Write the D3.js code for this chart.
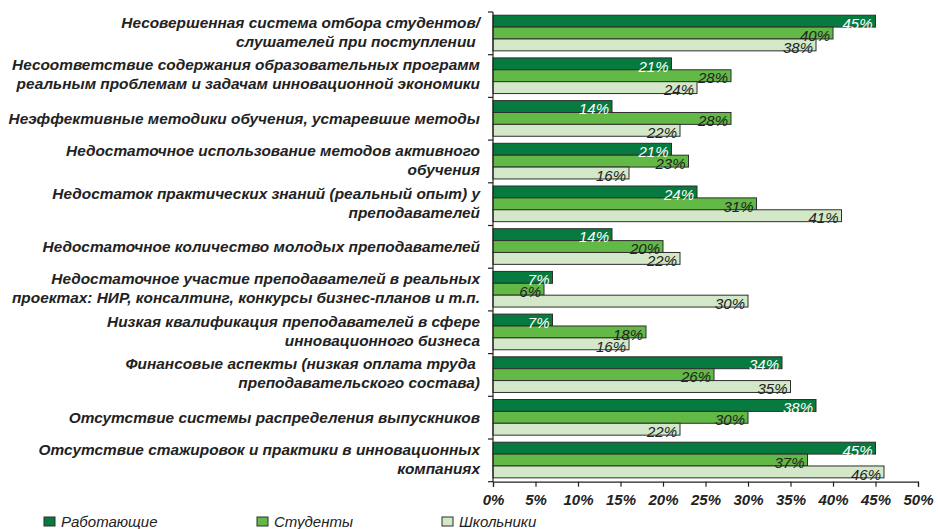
<!DOCTYPE html>
<html><head><meta charset="utf-8">
<script src="https://cdn.jsdelivr.net/npm/d3@7"></script>
<style>
html,body{margin:0;padding:0;background:#fff;}
svg text{font-family:"Liberation Sans",Arial,sans-serif;}
</style></head>
<body>
<svg id="chart" width="938" height="529"></svg>
<script>
const categories = [
  ["Несовершенная система отбора студентов/", "слушателей при поступлении\u00a0"],
  ["Несоответствие содержания образовательных программ", "реальным проблемам и задачам инновационной экономики"],
  ["Неэффективные методики обучения, устаревшие методы"],
  ["Недостаточное использование методов активного", "обучения"],
  ["Недостаток практических знаний (реальный опыт) у", "преподавателей"],
  ["Недостаточное количество молодых преподавателей"],
  ["Недостаточное участие преподавателей в реальных", "проектах: НИР, консалтинг, конкурсы бизнес-планов и т.п."],
  ["Низкая квалификация преподавателей в сфере", "инновационного бизнеса"],
  ["Финансовые аспекты (низкая оплата труда\u00a0", "преподавательского состава)"],
  ["Отсутствие системы распределения выпускников"],
  ["Отсутствие стажировок и практики в инновационных", "компаниях"]
];
const seriesNames = ["Работающие", "Студенты", "Школьники"];
const working  = [45, 21, 14, 21, 24, 14, 7, 7, 34, 38, 45];
const students = [40, 28, 28, 23, 31, 20, 6, 18, 26, 30, 37];
const pupils   = [38, 24, 22, 16, 41, 22, 30, 16, 35, 22, 46];
const xTicks = [0, 5, 10, 15, 20, 25, 30, 35, 40, 45, 50];

const seriesValues = [working, students, pupils];
const colors = ["#077b3f", "#63b946", "#d3e8c8"];
const labelColors = ["#ffffff", "#222222", "#222222"];

const svg = d3.select("#chart");
const x0 = 493, x1 = 918, yTop = 12, yBot = 481.7;

const x = d3.scaleLinear().domain([0, 50]).range([x0, x1]);
const idx = categories.map((d, i) => i);
const y = d3.scaleBand().domain(idx).range([yTop, yBot]).padding(0);
const bw = y.bandwidth();
const ySub = d3.scaleBand().domain([0, 1, 2]).range([bw * 0.075, bw * 0.91]).padding(0);

// bars
const groups = svg.append("g").selectAll("g").data(idx).join("g")
  .attr("transform", i => `translate(0,${y(i)})`);

seriesValues.forEach((vals, s) => {
  groups.append("rect")
    .attr("x", x(0))
    .attr("y", ySub(s))
    .attr("width", i => x(vals[i]) - x(0))
    .attr("height", ySub.bandwidth())
    .attr("fill", colors[s])
    .attr("stroke", "#2e2e2e")
    .attr("stroke-width", 1);
});
seriesValues.forEach((vals, s) => {
  groups.append("text")
    .attr("x", i => x(vals[i]) - 3)
    .attr("y", ySub(s) + ySub.bandwidth() + 1.8)
    .attr("text-anchor", "end")
    .attr("font-size", "15px")
    .attr("font-style", "italic")
    .attr("fill", labelColors[s])
    .text(i => vals[i] + "%");
});

// left axis
const leftAxis = svg.append("g");
leftAxis.append("line").attr("x1", x0).attr("x2", x0).attr("y1", yTop).attr("y2", yBot)
  .attr("stroke", "#222").attr("stroke-width", 1.2);
const bounds = idx.map(i => y(i)).concat([yBot]);
leftAxis.selectAll("line.t").data(bounds).join("line").attr("class", "t")
  .attr("x1", x0 - 5).attr("x2", x0).attr("y1", d => d).attr("y2", d => d)
  .attr("stroke", "#222").attr("stroke-width", 1.2);

// category labels
const lh = 19;
const cat = svg.append("g").selectAll("text").data(idx).join("text")
  .attr("text-anchor", "end")
  .attr("font-size", "15.4px")
  .attr("font-weight", "bold")
  .attr("font-style", "italic")
  .attr("fill", "#222");
cat.each(function(i) {
  const lines = categories[i];
  const cy = y(i) + bw / 2 - (lines.length > 1 ? 1.5 : 0);
  const start = cy - (lines.length - 1) * lh / 2;
  d3.select(this).selectAll("tspan").data(lines).join("tspan")
    .attr("x", 480)
    .attr("y", (d, k) => start + k * lh)
    .attr("dy", "0.35em")
    .text(d => d);
});

// bottom axis
const xAxis = d3.axisBottom(x).tickValues(xTicks).tickFormat(d => d + "%").tickSize(5).tickPadding(8);
const gx = svg.append("g").attr("transform", `translate(0,${yBot})`).call(xAxis);
gx.select(".domain").attr("stroke", "#222").attr("stroke-width", 1.2);
gx.selectAll(".tick line").attr("stroke", "#222").attr("stroke-width", 1.2);
gx.selectAll(".tick text")
  .attr("font-family", "'Liberation Sans', Arial, sans-serif")
  .attr("font-size", "15px").attr("font-weight", "bold").attr("font-style", "italic")
  .attr("fill", "#222");

// legend
const legendX = [44, 257, 442];
const lg = svg.append("g").selectAll("g").data(seriesNames).join("g")
  .attr("transform", (d, i) => `translate(${legendX[i]},517)`);
lg.append("rect").attr("width", 11).attr("height", 9)
  .attr("fill", (d, i) => colors[i]).attr("stroke", "#2e2e2e").attr("stroke-width", 1);
lg.append("text").attr("x", 17).attr("y", 9.5)
  .attr("font-size", "15px").attr("font-style", "italic").attr("fill", "#222")
  .text(d => d);
</script>
</body></html>
